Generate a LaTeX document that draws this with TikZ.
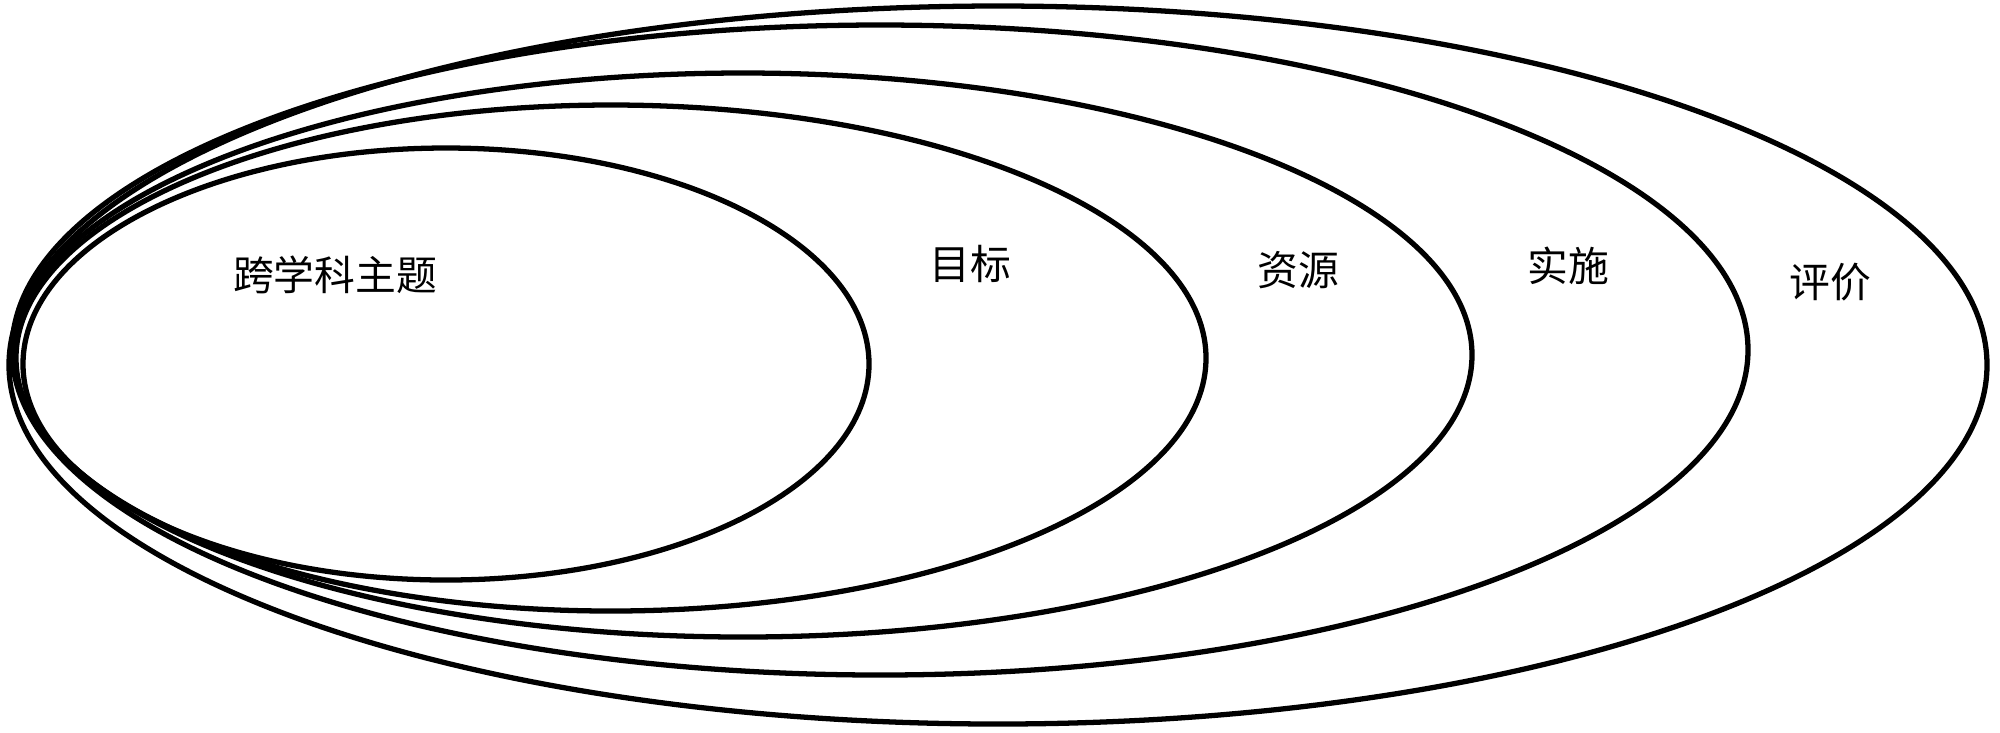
\documentclass[tikz,border=0pt]{standalone}
\usepackage{fontspec}
\newfontfamily\cjk{Noto Sans CJK SC}
\begin{document}
\begin{tikzpicture}[x=0.01cm,y=-0.01cm,
  ring/.style={draw=black,line width=1.5pt},
  lbl/.style={font=\cjk\fontsize{11.6pt}{13pt}\selectfont,inner sep=0pt}]
\useasboundingbox (0,0) rectangle (2000,732);
\draw[ring] (998,365) ellipse [x radius=989, y radius=359];
\draw[ring] (880,350) ellipse [x radius=868, y radius=325];
\draw[ring] (743,355) ellipse [x radius=729, y radius=282];
\draw[ring] (611,358) ellipse [x radius=595, y radius=253];
\draw[ring] (446,364) ellipse [x radius=423, y radius=216];
\node[lbl] (t1) at (335,275) {跨学科主题};
\node[lbl] (t2) at (970,264) {目标};
\node[lbl] (t3) at (1298,270) {资源};
\node[lbl] (t4) at (1568,266) {实施};
\node[lbl] (t5) at (1830,282) {评价};
\end{tikzpicture}
\end{document}
